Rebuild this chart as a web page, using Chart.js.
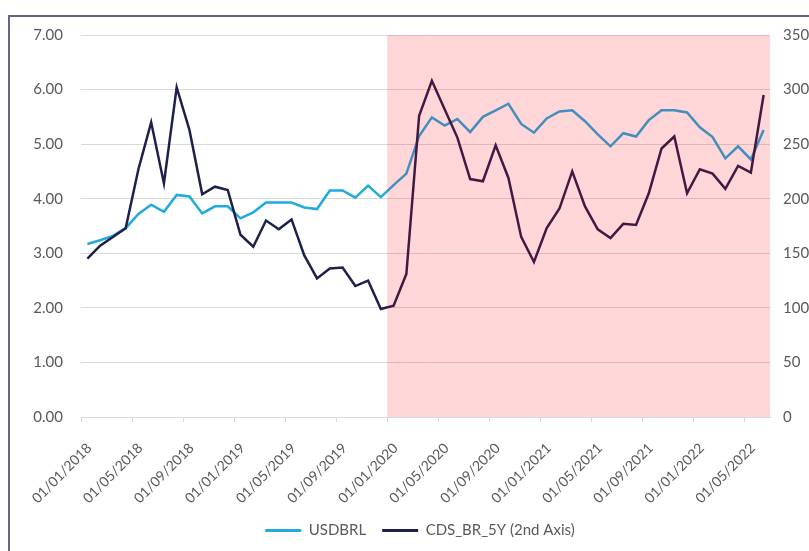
<!DOCTYPE html>
<html>
<head>
<meta charset="utf-8">
<script src="https://cdn.jsdelivr.net/npm/chart.js@4/dist/chart.umd.min.js"></script>
<style>
  html, body { margin: 0; padding: 0; background: #fff; overflow: hidden; }
  #frame {
    position: absolute; left: 8px; top: 15px;
    border-left: 2px solid #65658a; border-top: 2px solid #65658a;
    width: 820px; height: 540px;
  }
  #chart { display: block; margin-top: -9px; }
</style>
</head>
<body>
<div id="frame"><canvas id="chart" width="820" height="543"></canvas></div>
<script>
// monthly observations, Jan 2018 .. Jun 2022
var months = [
  "01/01/2018","01/02/2018","01/03/2018","01/04/2018","01/05/2018","01/06/2018",
  "01/07/2018","01/08/2018","01/09/2018","01/10/2018","01/11/2018","01/12/2018",
  "01/01/2019","01/02/2019","01/03/2019","01/04/2019","01/05/2019","01/06/2019",
  "01/07/2019","01/08/2019","01/09/2019","01/10/2019","01/11/2019","01/12/2019",
  "01/01/2020","01/02/2020","01/03/2020","01/04/2020","01/05/2020","01/06/2020",
  "01/07/2020","01/08/2020","01/09/2020","01/10/2020","01/11/2020","01/12/2020",
  "01/01/2021","01/02/2021","01/03/2021","01/04/2021","01/05/2021","01/06/2021",
  "01/07/2021","01/08/2021","01/09/2021","01/10/2021","01/11/2021","01/12/2021",
  "01/01/2022","01/02/2022","01/03/2022","01/04/2022","01/05/2022","01/06/2022"
];

var usdbrl = [
  3.17, 3.24, 3.32, 3.46, 3.72, 3.89, 3.76, 4.07, 4.04, 3.73,
  3.86, 3.86, 3.64, 3.75, 3.93, 3.93, 3.93, 3.84, 3.81, 4.15,
  4.15, 4.02, 4.24, 4.03, 4.25, 4.46, 5.15, 5.49, 5.34, 5.46,
  5.22, 5.50, 5.62, 5.74, 5.37, 5.21, 5.47, 5.60, 5.62, 5.42,
  5.18, 4.96, 5.20, 5.14, 5.44, 5.62, 5.62, 5.58, 5.31, 5.13,
  4.74, 4.96, 4.72, 5.26
];

var cdsBr5y = [
  145, 157, 165, 173, 227, 270, 214, 302, 263, 204,
  211, 208, 167, 156, 180, 172, 181, 148, 127, 136,
  137, 120, 125,  99, 102, 131, 276, 308, 282, 256,
  218, 216, 249, 219, 165, 142, 173, 191, 225, 193,
  172, 164, 177, 176, 205, 246, 257, 205, 227, 223,
  209, 230, 224, 295
];

var leftTicks = [0, 1, 2, 3, 4, 5, 6, 7];
var rightTicks = [0, 50, 100, 150, 200, 250, 300, 350];
var shadeFrom = "01/01/2020";

var textColor = '#595959';
var gridColor = '#d9d9d9';
Chart.defaults.font.family = "Lato, 'Open Sans', sans-serif";
Chart.defaults.color = textColor;

// translucent band from the start of 2020 to the end of the plot
var shadePlugin = {
  id: 'shade',
  afterDatasetsDraw: function(chart) {
    var x = chart.scales.x, area = chart.chartArea, ctx = chart.ctx;
    var i = months.indexOf(shadeFrom);
    var left = (x.getPixelForValue(i - 1) + x.getPixelForValue(i)) / 2;
    ctx.save();
    ctx.fillStyle = 'rgba(255, 0, 10, 0.155)';
    ctx.fillRect(left, area.top, area.right - left, area.bottom - area.top);
    ctx.restore();
  }
};

var chart = new Chart(document.getElementById('chart'), {
  type: 'line',
  data: {
    labels: months,
    datasets: [
      {
        label: 'USDBRL',
        data: usdbrl,
        yAxisID: 'y',
        borderColor: '#22a9de',
        backgroundColor: '#22a9de',
        borderWidth: 2.5,
        order: 1
      },
      {
        label: 'CDS_BR_5Y (2nd Axis)',
        data: cdsBr5y,
        yAxisID: 'y1',
        borderColor: '#1d1f4c',
        backgroundColor: '#1d1f4c',
        borderWidth: 2.5,
        order: 0
      }
    ]
  },
  options: {
    responsive: false,
    animation: false,
    layout: { padding: { top: 9, left: 0, right: 0, bottom: 3 } },
    elements: { point: { radius: 0 }, line: { tension: 0 } },
    plugins: {
      tooltip: { enabled: false },
      legend: {
        position: 'bottom',
        labels: {
          boxWidth: 36,
          boxHeight: 3,
          padding: 16,
          font: { size: 15 },
          color: textColor,
          sort: function(a, b) { return a.datasetIndex - b.datasetIndex; },
          generateLabels: function(c) {
            return Chart.defaults.plugins.legend.labels.generateLabels(c).map(function(item) {
              item.lineWidth = 0;
              return item;
            });
          }
        }
      }
    },
    scales: {
      x: {
        type: 'category',
        offset: true,
        grid: {
          offset: true,
          drawOnChartArea: false,
          drawTicks: true,
          tickLength: 5,
          tickColor: function(ctx) { return ctx.index % 4 === 0 ? gridColor : 'rgba(0,0,0,0)'; }
        },
        border: { color: gridColor },
        ticks: {
          autoSkip: false,
          minRotation: 45,
          maxRotation: 45,
          padding: 18,
          labelOffset: 2,
          font: { size: 14 },
          callback: function(v, i) { return i % 4 === 0 ? months[i] : ''; }
        },
        afterFit: function(scale) { scale.height = 90; }
      },
      y: {
        position: 'left',
        min: leftTicks[0],
        max: leftTicks[leftTicks.length - 1],
        grid: { color: gridColor, drawTicks: false },
        border: { display: false },
        ticks: {
          stepSize: 1,
          padding: 18,
          font: { size: 15 },
          callback: function(v) { return v.toFixed(2); }
        },
        afterFit: function(scale) { scale.width = 71; }
      },
      y1: {
        position: 'right',
        min: rightTicks[0],
        max: rightTicks[rightTicks.length - 1],
        grid: { drawOnChartArea: false, drawTicks: false },
        border: { display: false },
        ticks: {
          stepSize: 50,
          padding: 13,
          font: { size: 15 }
        },
        afterFit: function(scale) { scale.width = 60; }
      }
    }
  },
  plugins: [shadePlugin]
});
</script>
</body>
</html>
